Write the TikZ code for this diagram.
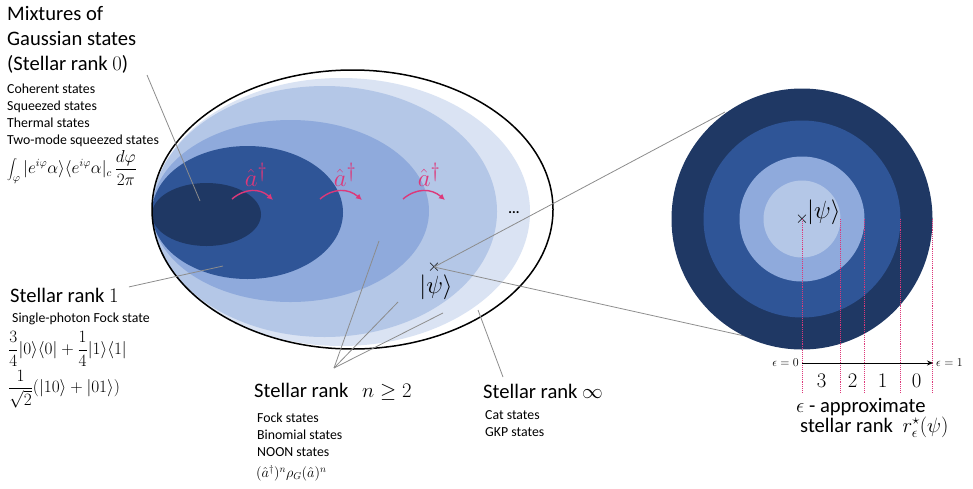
\documentclass[tikz,border=0pt]{standalone}
\usepackage[no-math]{fontspec}
\setmainfont{Carlito}
\usetikzlibrary{arrows.meta}
\usetikzlibrary{positioning}

\definecolor{rankzero}{HTML}{1F3864}
\definecolor{rankone}{HTML}{2F5597}
\definecolor{ranktwo}{HTML}{8FAADC}
\definecolor{rankthree}{HTML}{B4C7E7}
\definecolor{rankinf}{HTML}{DAE3F3}
\definecolor{adag}{RGB}{221,56,122}

\tikzset{
  biglbl/.style={font=\fontsize{20.6}{25}\selectfont, align=left, inner sep=0pt},
  smalllbl/.style={font=\fontsize{13.8}{16.7}\selectfont, align=left, inner sep=0pt},
  formula/.style={font=\fontsize{16}{19}\selectfont, inner sep=0pt},
  ptr/.style={draw=black!45, line width=0.8pt},
  raise/.style={adag, line width=1.4pt, -{Latex[length=6pt,width=6pt]}},
  marker/.style={adag, densely dotted, line width=0.9pt},
}

\begin{document}
\begin{tikzpicture}[x=1pt, y=-1pt]
  \useasboundingbox (0,0) rectangle (973,488);

  % 楕円と層
  \fill[white] (352.5,209.5) ellipse [x radius=200.5pt, y radius=139.5pt];
  \fill[rankinf] (341,212) ellipse [x radius=189pt, y radius=134pt];
  \fill[rankthree] (324.5,211.5) ellipse [x radius=172.5pt, y radius=125.5pt];
  \fill[ranktwo] (290.5,211) ellipse [x radius=138.5pt, y radius=91pt];
  \fill[rankone] (247.5,212.5) ellipse [x radius=95.5pt, y radius=66.5pt];
  \fill[rankzero] (206.5,214.5) ellipse [x radius=54.5pt, y radius=31.5pt];
  \draw[line width=1.5pt] (352.5,209.5) ellipse [x radius=200.5pt, y radius=139.5pt];

  % 生成演算子
  \node[adag, font=\fontsize{30}{30}\selectfont, inner sep=0pt] (adagA) at (256,175) {$\hat{a}^\dagger$};
  \node[adag, font=\fontsize{30}{30}\selectfont, inner sep=0pt] (adagB) at (345,175) {$\hat{a}^\dagger$};
  \node[adag, font=\fontsize{30}{30}\selectfont, inner sep=0pt] (adagC) at (429,175) {$\hat{a}^\dagger$};
  \draw[raise] (232,199) .. controls (245,188) and (260,188) .. (273,200);
  \draw[raise] (320,199) .. controls (333,188) and (348,188) .. (362,200);
  \draw[raise] (403,199) .. controls (416,188) and (431,188) .. (445,200);
  \node[smalllbl, font=\bfseries\fontsize{13.8}{16.7}\selectfont] (dots) at (514,213) {...};

  % 右の円
  \coordinate (tanA) at (725,112);
  \coordinate (tanB) at (758,339);
  \node[inner sep=0pt, font=\fontsize{18}{18}\selectfont] (psiA) at (434,267) {$\times$};
  \node[inner sep=0pt, font=\fontsize{24}{24}\selectfont] (psiAlbl) at (436,287) {$|\psi\rangle$};
  \draw[ptr] (psiA.center) -- (tanA);
  \draw[ptr] (psiA.center) -- (tanB);
  \fill[rankzero] (802,219) circle (130.5pt);
  \fill[rankone] (802,219) circle (98.5pt);
  \fill[ranktwo] (802,219) circle (62.5pt);
  \fill[rankthree] (802,219) circle (38.5pt);
  \node[inner sep=0pt, font=\fontsize{18}{18}\selectfont] (psiB) at (802,219) {$\times$};
  \node[inner sep=0pt, anchor=west, font=\fontsize{25}{25}\selectfont] (psiBlbl) at (807,212) {$|\psi\rangle$};

  % 点線と軸
  \draw[marker] (802,219) -- (802,392);
  \draw[marker] (840.5,219) -- (840.5,392);
  \draw[marker] (864.5,219) -- (864.5,392);
  \draw[marker] (900.5,219) -- (900.5,392);
  \draw[marker] (932.5,219) -- (932.5,392);
  \node[anchor=east, inner sep=3pt, font=\fontsize{12.5}{12.5}\selectfont] (epsZero) at (802,363) {$\epsilon=0$};
  \node[anchor=west, inner sep=3pt, font=\fontsize{12.5}{12.5}\selectfont] (epsOne) at (933,363) {$\epsilon=1$};
  \draw[line width=0.9pt, -{Stealth[length=6pt,width=5pt]}] (epsZero.east) -- (epsOne.west);
  \node[anchor=base, font=\fontsize{20}{20}\selectfont] (rThree) at (821.5,387) {$3$};
  \node[anchor=base, font=\fontsize{20}{20}\selectfont] (rTwo) at (852.5,387) {$2$};
  \node[anchor=base, font=\fontsize{20}{20}\selectfont] (rOne) at (882.5,387) {$1$};
  \node[anchor=base, font=\fontsize{20}{20}\selectfont] (rZero) at (916.5,387) {$0$};
  \node[biglbl, anchor=base west] (epsLbl) at (796,412) {$\epsilon$ - approximate};
  \node[biglbl, anchor=base west] (epsRank) at (800,432) {stellar rank\hspace{5pt} $r^\star_\epsilon(\psi)$};

  % ラベル（左）
  \node[biglbl, anchor=base west] (mixLbl) at (7,70) {Mixtures of\\Gaussian states\\(Stellar rank $0$)};
  \node[smalllbl, anchor=base west] (mixList) at (7,144) {Coherent states\\Squeezed states\\Thermal states\\Two-mode squeezed states};
  \node[formula, anchor=west] (mixForm) at (7,168) {$\displaystyle\int_\varphi |e^{i\varphi}\alpha\rangle\langle e^{i\varphi}\alpha|_c\,\frac{d\varphi}{2\pi}$};
  \node[biglbl, anchor=base west] (oneLbl) at (10,302) {Stellar rank $1$};
  \node[smalllbl, anchor=base west] (oneList) at (12,322) {Single-photon Fock state};
  \node[formula, anchor=west] (oneFormA) at (8,349) {$\displaystyle\frac{3}{4}|0\rangle\langle 0|+\frac{1}{4}|1\rangle\langle 1|$};
  \node[formula, anchor=west] (oneFormB) at (8,389) {$\displaystyle\frac{1}{\sqrt{2}}(|10\rangle+|01\rangle)$};

  % ラベル（下）
  \node[biglbl, anchor=base west] (nLbl) at (254,397) {Stellar rank\hspace{9pt} $n\geq 2$};
  \node[smalllbl, anchor=base west] (nList) at (257,456) {Fock states\\Binomial states\\NOON states};
  \node[formula, anchor=west, font=\fontsize{14.5}{17}\selectfont] (nForm) at (256,473) {$(\hat{a}^\dagger)^n\rho_G(\hat{a})^n$};
  \node[biglbl, anchor=base west] (infLbl) at (483,398) {Stellar rank $\infty$};
  \node[smalllbl, anchor=base west] (infList) at (485,436) {Cat states\\GKP states};

  % 指示線
  \coordinate (mixPt) at (200,201);
  \coordinate (onePt) at (223,266);
  \coordinate (nPtA) at (379,241);
  \coordinate (nPtB) at (398,302);
  \coordinate (nPtC) at (443,313);
  \coordinate (nFoot) at (334,368);
  \coordinate (infPt) at (478,310);
  \draw[ptr] (147,75) -- (mixPt);
  \draw[ptr] (oneLbl.east) ++(10,-8) -- (onePt);
  \draw[ptr] (nFoot) -- (nPtA);
  \draw[ptr] (nFoot) -- (nPtB);
  \draw[ptr] (nFoot) -- (nPtC);
  \draw[ptr] (503,377) -- (infPt);
\end{tikzpicture}
\end{document}
